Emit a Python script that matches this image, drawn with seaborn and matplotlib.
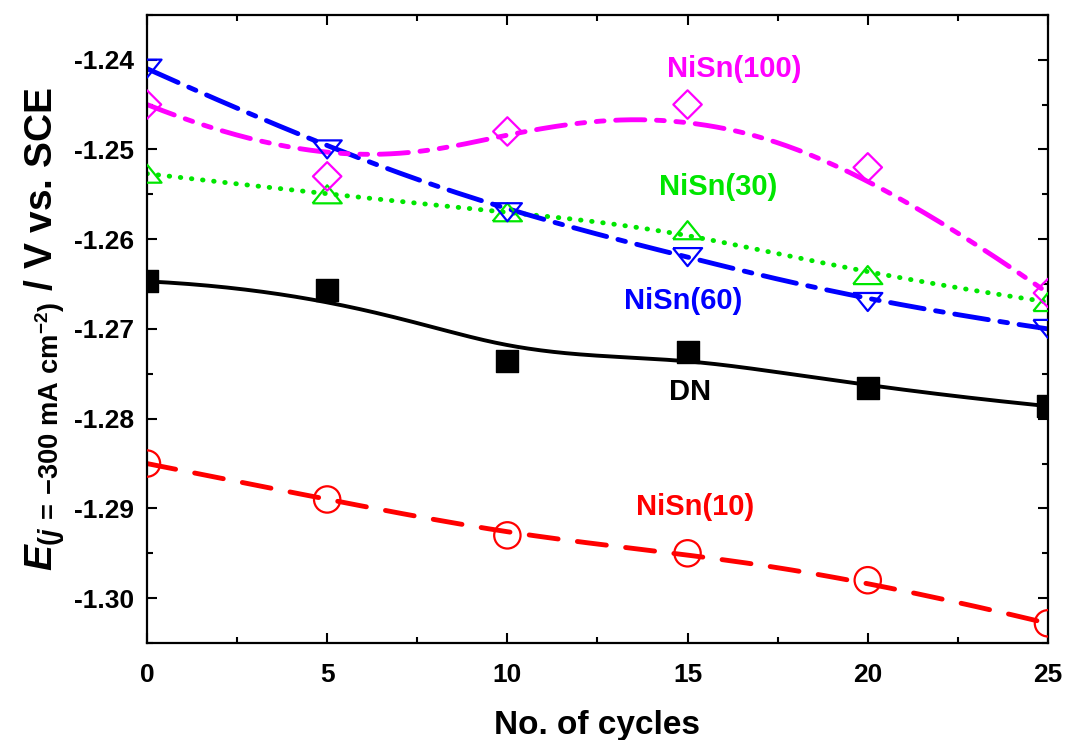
import numpy as np
import pandas as pd
import matplotlib
matplotlib.use('Agg')
import matplotlib.pyplot as plt
import seaborn as sns

# 数据：循环次数与电位 (V vs. SCE)
cycles = [0, 5, 10, 15, 20, 25]
e_dn = [-1.2647, -1.2657, -1.2736, -1.2726, -1.2766, -1.2786]
e_nisn10 = [-1.2850, -1.2890, -1.2930, -1.2950, -1.2980, -1.3028]
e_nisn30 = [-1.2527, -1.2550, -1.2570, -1.2590, -1.2640, -1.2670]
e_nisn60 = [-1.2410, -1.2500, -1.2570, -1.2620, -1.2670, -1.2700]
e_nisn100 = [-1.2450, -1.2530, -1.2480, -1.2450, -1.2520, -1.2660]

sns.set_theme(style='ticks')
plt.rcParams['font.family'] = ['Liberation Sans', 'DejaVu Sans']
plt.rcParams['font.weight'] = 'bold'
plt.rcParams['mathtext.fontset'] = 'custom'
plt.rcParams['mathtext.it'] = 'Liberation Sans:italic:bold'
plt.rcParams['mathtext.rm'] = 'Liberation Sans:bold'
plt.rcParams['mathtext.bf'] = 'Liberation Sans:bold'
for k in ['text.color', 'axes.labelcolor', 'xtick.color', 'ytick.color', 'axes.edgecolor']:
    plt.rcParams[k] = 'black'


# B样条连线（数据点作为控制点，和Origin的B-Spline一样）
def bspline(xs, ys, n=300, deg=3):
    P = np.column_stack([xs, ys]).astype(float)
    m = len(P)
    knots = np.concatenate([np.zeros(deg), np.linspace(0, 1, m - deg + 1), np.ones(deg)])
    t = np.linspace(0, 1, n)
    N = np.zeros((n, len(knots) - 1))
    for i in range(len(knots) - 1):
        N[:, i] = (knots[i] <= t) & (t < knots[i + 1])
    N[-1, m - 1] = 1.0
    for d in range(1, deg + 1):
        Nn = np.zeros((n, len(knots) - 1 - d))
        for i in range(len(knots) - 1 - d):
            a = knots[i + d] - knots[i]
            b = knots[i + d + 1] - knots[i + 1]
            left = (t - knots[i]) / a * N[:, i] if a > 0 else 0
            right = (knots[i + d + 1] - t) / b * N[:, i + 1] if b > 0 else 0
            Nn[:, i] = left + right
        N = Nn
    c = N @ P
    return c[:, 0], c[:, 1]


tri_up = [(-1, -0.62), (1, -0.62), (0, 0.62), (-1, -0.62)]
tri_dn = [(-1, 0.62), (1, 0.62), (0, -0.62), (-1, 0.62)]

# 名称, 数据, 颜色, 标记, 大小, 线型, 线宽
series = [
    ('NiSn(10)', e_nisn10, '#ff0000', 'o', 360, (0, (6, 4)), 3.5),
    ('NiSn(30)', e_nisn30, '#00e600', tri_up, 440, (0, (0.1, 2.2)), 3.5),
    ('NiSn(60)', e_nisn60, '#0000ff', tri_dn, 440, (0, (7, 2.4, 1.6, 2.4)), 3.5),
    ('NiSn(100)', e_nisn100, '#ff00ff', 'D', 210, (0, (6, 2.4, 1.6, 2.4, 1.6, 2.4)), 3.5),
    ('DN', e_dn, 'black', 's', 230, '-', 2.8),
]

fig = plt.figure(figsize=(10.65, 7.4), dpi=100)
ax = fig.add_axes([0.138, 0.131, 0.846, 0.849])

for name, vals, col, mk, size, ls, lw in series:
    bx, by = bspline(cycles, vals)
    sns.lineplot(x=bx, y=by, sort=False, estimator=None, ax=ax, color=col,
                 linestyle=ls, linewidth=lw, dash_capstyle='round',
                 solid_capstyle='round')
    if name == 'DN':
        ax.scatter(cycles, vals, marker=mk, s=size, color=col, zorder=5)
    else:
        ax.scatter(cycles, vals, marker=mk, s=size, facecolors='none',
                   edgecolors=col, linewidths=1.6, zorder=5)

# 标注
labels = [
    ('NiSn(100)', 16.3, -1.2410, '#ff00ff'),
    ('NiSn(30)', 15.85, -1.2542, '#00e600'),
    ('NiSn(60)', 14.87, -1.2669, '#0000ff'),
    ('DN', 15.07, -1.2770, 'black'),
    ('NiSn(10)', 15.2, -1.2898, '#ff0000'),
]
for txt, x, y, col in labels:
    ax.text(x, y, txt, color=col, fontsize=21, fontweight='bold',
            ha='center', va='center')

ax.set_xlim(0, 25)
ax.set_ylim(-1.305, -1.235)
ax.set_xticks([0, 5, 10, 15, 20, 25])
ax.set_xticks(np.arange(0, 25.1, 2.5), minor=True)
ax.set_yticks([-1.30, -1.29, -1.28, -1.27, -1.26, -1.25, -1.24])
ax.set_yticklabels(['-1.30', '-1.29', '-1.28', '-1.27', '-1.26', '-1.25', '-1.24'])
ax.set_yticks(np.arange(-1.305, -1.2349, 0.005), minor=True)
ax.tick_params(which='both', direction='in', top=True, right=True, width=1.5)
ax.tick_params(which='major', length=7, labelsize=19, pad=9)
ax.tick_params(axis='x', which='major', pad=14)
ax.tick_params(which='minor', length=4)
for lab in ax.get_xticklabels() + ax.get_yticklabels():
    lab.set_fontweight('bold')
for sp in ax.spines.values():
    sp.set_linewidth(1.6)

ax.set_xlabel('No. of cycles', fontsize=24, fontweight='bold', labelpad=17)
ax.set_ylabel(r'$E_{(j\,=\,\mathrm{-300\ mA\ cm^{-2}})}$ / V vs. SCE',
              fontsize=28, fontweight='bold', labelpad=5)

fig.savefig('out.png', dpi=100)
